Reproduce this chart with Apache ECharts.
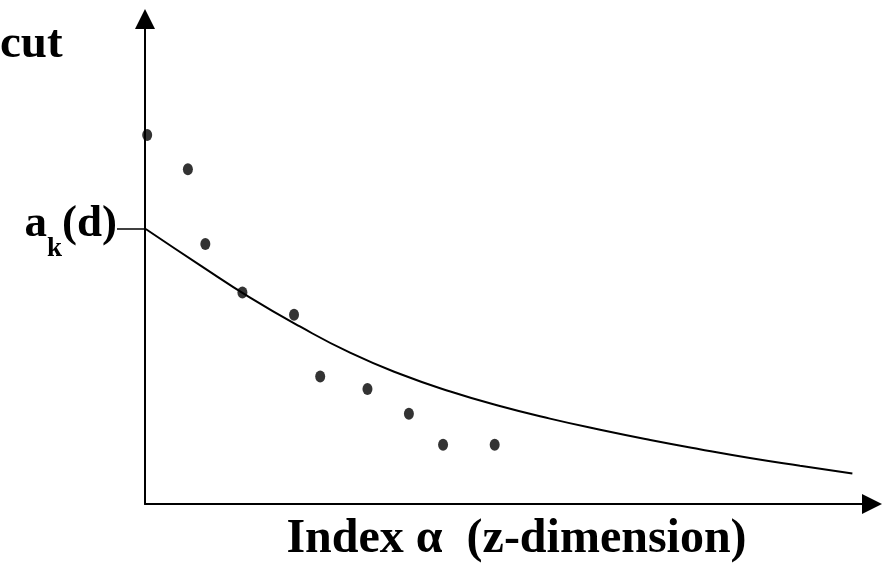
<!DOCTYPE html>
<html>
<head>
<meta charset="utf-8">
<script src="https://cdn.jsdelivr.net/npm/echarts@6/dist/echarts.min.js"></script>
<style>html,body{margin:0;padding:0;background:#fff}#c{width:885px;height:564px}</style>
</head>
<body>
<div id="c"></div>
<script>
// Scatter points (index, cut)
const dotX = [0.3, 5.9, 8.3, 13.4, 20.5, 24.1, 30.6, 36.3, 41.0, 48.1];
const dotY = [76.1, 69.0, 53.6, 43.6, 39.0, 26.3, 23.7, 18.6, 12.2, 12.2];
// Threshold curve a_k(d)
const curveX = [0.1, 7.6, 14.4, 21.3, 28.2, 35.1, 42.0, 48.8, 55.7, 62.6, 69.5, 76.3, 83.2, 90.1, 97.3];
const curveY = [56.7, 49.2, 42.6, 36.6, 31.2, 26.8, 23.2, 20.2, 17.6, 15.3, 13.2, 11.3, 9.5, 7.9, 6.3];
const akValue = 56.7;
const yName = 'cut';
const xName = 'Index α  (z-dimension)';

const FONT = '"Liberation Serif", "Times New Roman", serif';
const chart = echarts.init(document.getElementById('c'), null, {renderer: 'canvas'});
chart.setOption({
  animation: false,
  backgroundColor: '#fff',
  title: {
    text: yName, left: 0, top: 21, padding: 0,
    textStyle: {fontFamily: FONT, fontWeight: 'bold', fontSize: 47, color: '#000'}
  },
  grid: {left: 145, right: 13, top: 19, bottom: 60, containLabel: false, outerBoundsMode: 'none'},
  xAxis: {
    type: 'value', min: 0, max: 100,
    axisLine: {show: true, symbol: ['none', 'triangle'], symbolSize: [20, 20],
      lineStyle: {color: '#000', width: 2}},
    axisTick: {show: false}, axisLabel: {show: false}, splitLine: {show: false},
    name: xName, nameLocation: 'middle', nameGap: 12,
    nameTextStyle: {fontFamily: FONT, fontWeight: 'bold', fontSize: 48, color: '#000', padding: [0, 0, 0, 16]}
  },
  yAxis: {
    type: 'value', min: 0, max: 100,
    axisLine: {show: true, symbol: ['none', 'triangle'], symbolSize: [20, 20],
      lineStyle: {color: '#000', width: 2}},
    axisTick: {show: true, customValues: [akValue], length: 28, lineStyle: {color: '#000', width: 1.5}},
    axisLabel: {
      show: true, customValues: [akValue], margin: 28, padding: [0, 0, 10, 0],
      formatter: () => '{a|a}{k|k}{p|(d)}',
      rich: {
        a: {fontFamily: FONT, fontWeight: 'bold', fontSize: 45, lineHeight: 45, color: '#000', verticalAlign: 'top'},
        k: {fontFamily: FONT, fontWeight: 'bold', fontSize: 27, lineHeight: 27, color: '#000', verticalAlign: 'top', padding: [34, 0, 0, 0]},
        p: {fontFamily: FONT, fontWeight: 'bold', fontSize: 45, lineHeight: 45, color: '#000', verticalAlign: 'top'}
      }
    },
    splitLine: {show: false}
  },
  series: [
    {
      type: 'line', data: curveX.map((x, i) => [x, curveY[i]]),
      smooth: 0.5, showSymbol: false, lineStyle: {color: '#000', width: 2}, z: 2
    },
    {
      type: 'scatter', data: dotX.map((x, i) => [x, dotY[i]]),
      symbol: 'circle', symbolSize: [10, 12], itemStyle: {color: '#000'}, z: 3
    }
  ]
});
</script>
</body>
</html>
